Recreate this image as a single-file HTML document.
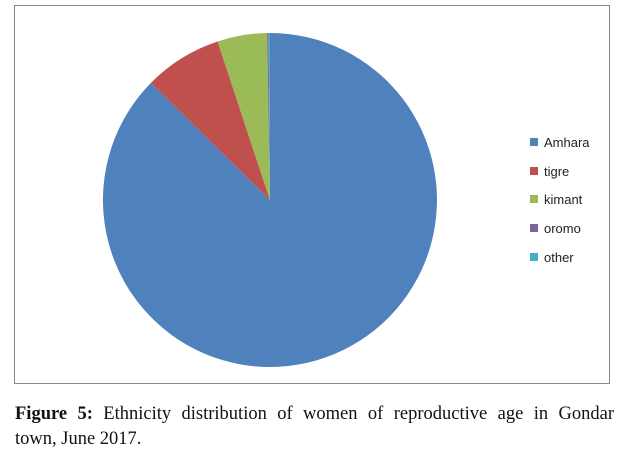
<!DOCTYPE html>
<html><head><style>
body{margin:0;background:#fff;width:629px;height:464px;overflow:hidden}
.cap{position:absolute;left:15px;top:402px;width:610px;font-family:"Liberation Serif",serif;font-size:18.5px;line-height:25px;color:#111}
.l1{display:block;width:599px;text-align:justify;text-align-last:justify;white-space:nowrap}
</style></head><body>
<svg width="629" height="464" style="position:absolute;left:0;top:0">
<rect x="14.5" y="5.5" width="595" height="378" fill="#fff" stroke="#888" stroke-width="1"/>
<path d="M270,200 L270,33 A167,167 0 1 1 150.9,82.9 Z" fill="#4f81bd"/>
<path d="M270,200 L150.9,82.9 A167,167 0 0 1 217.6,41.5 Z" fill="#c0504d"/>
<path d="M270,200 L217.6,41.5 A167,167 0 0 1 267.1,33 Z" fill="#9bbb59"/>
<path d="M270,200 L267.1,33 A167,167 0 0 1 268.6,33 Z" fill="#8064a2"/>
<path d="M270,200 L268.6,33 A167,167 0 0 1 270,33 Z" fill="#4bacc6"/>
<g font-family="Liberation Sans, sans-serif" font-size="13" fill="#222">
<rect x="530" y="138" width="8" height="8" fill="#4f81bd"/><text x="544" y="147">Amhara</text>
<rect x="530" y="167" width="8" height="8" fill="#c0504d"/><text x="544" y="176">tigre</text>
<rect x="530" y="195" width="8" height="8" fill="#9bbb59"/><text x="544" y="204">kimant</text>
<rect x="530" y="224" width="8" height="8" fill="#8064a2"/><text x="544" y="233">oromo</text>
<rect x="530" y="253" width="8" height="8" fill="#4bacc6"/><text x="544" y="262">other</text>
</g>
</svg>
<div class="cap"><span class="l1"><b>Figure 5:</b> Ethnicity distribution of women of reproductive age in Gondar</span>town, June 2017.</div>
</body></html>
